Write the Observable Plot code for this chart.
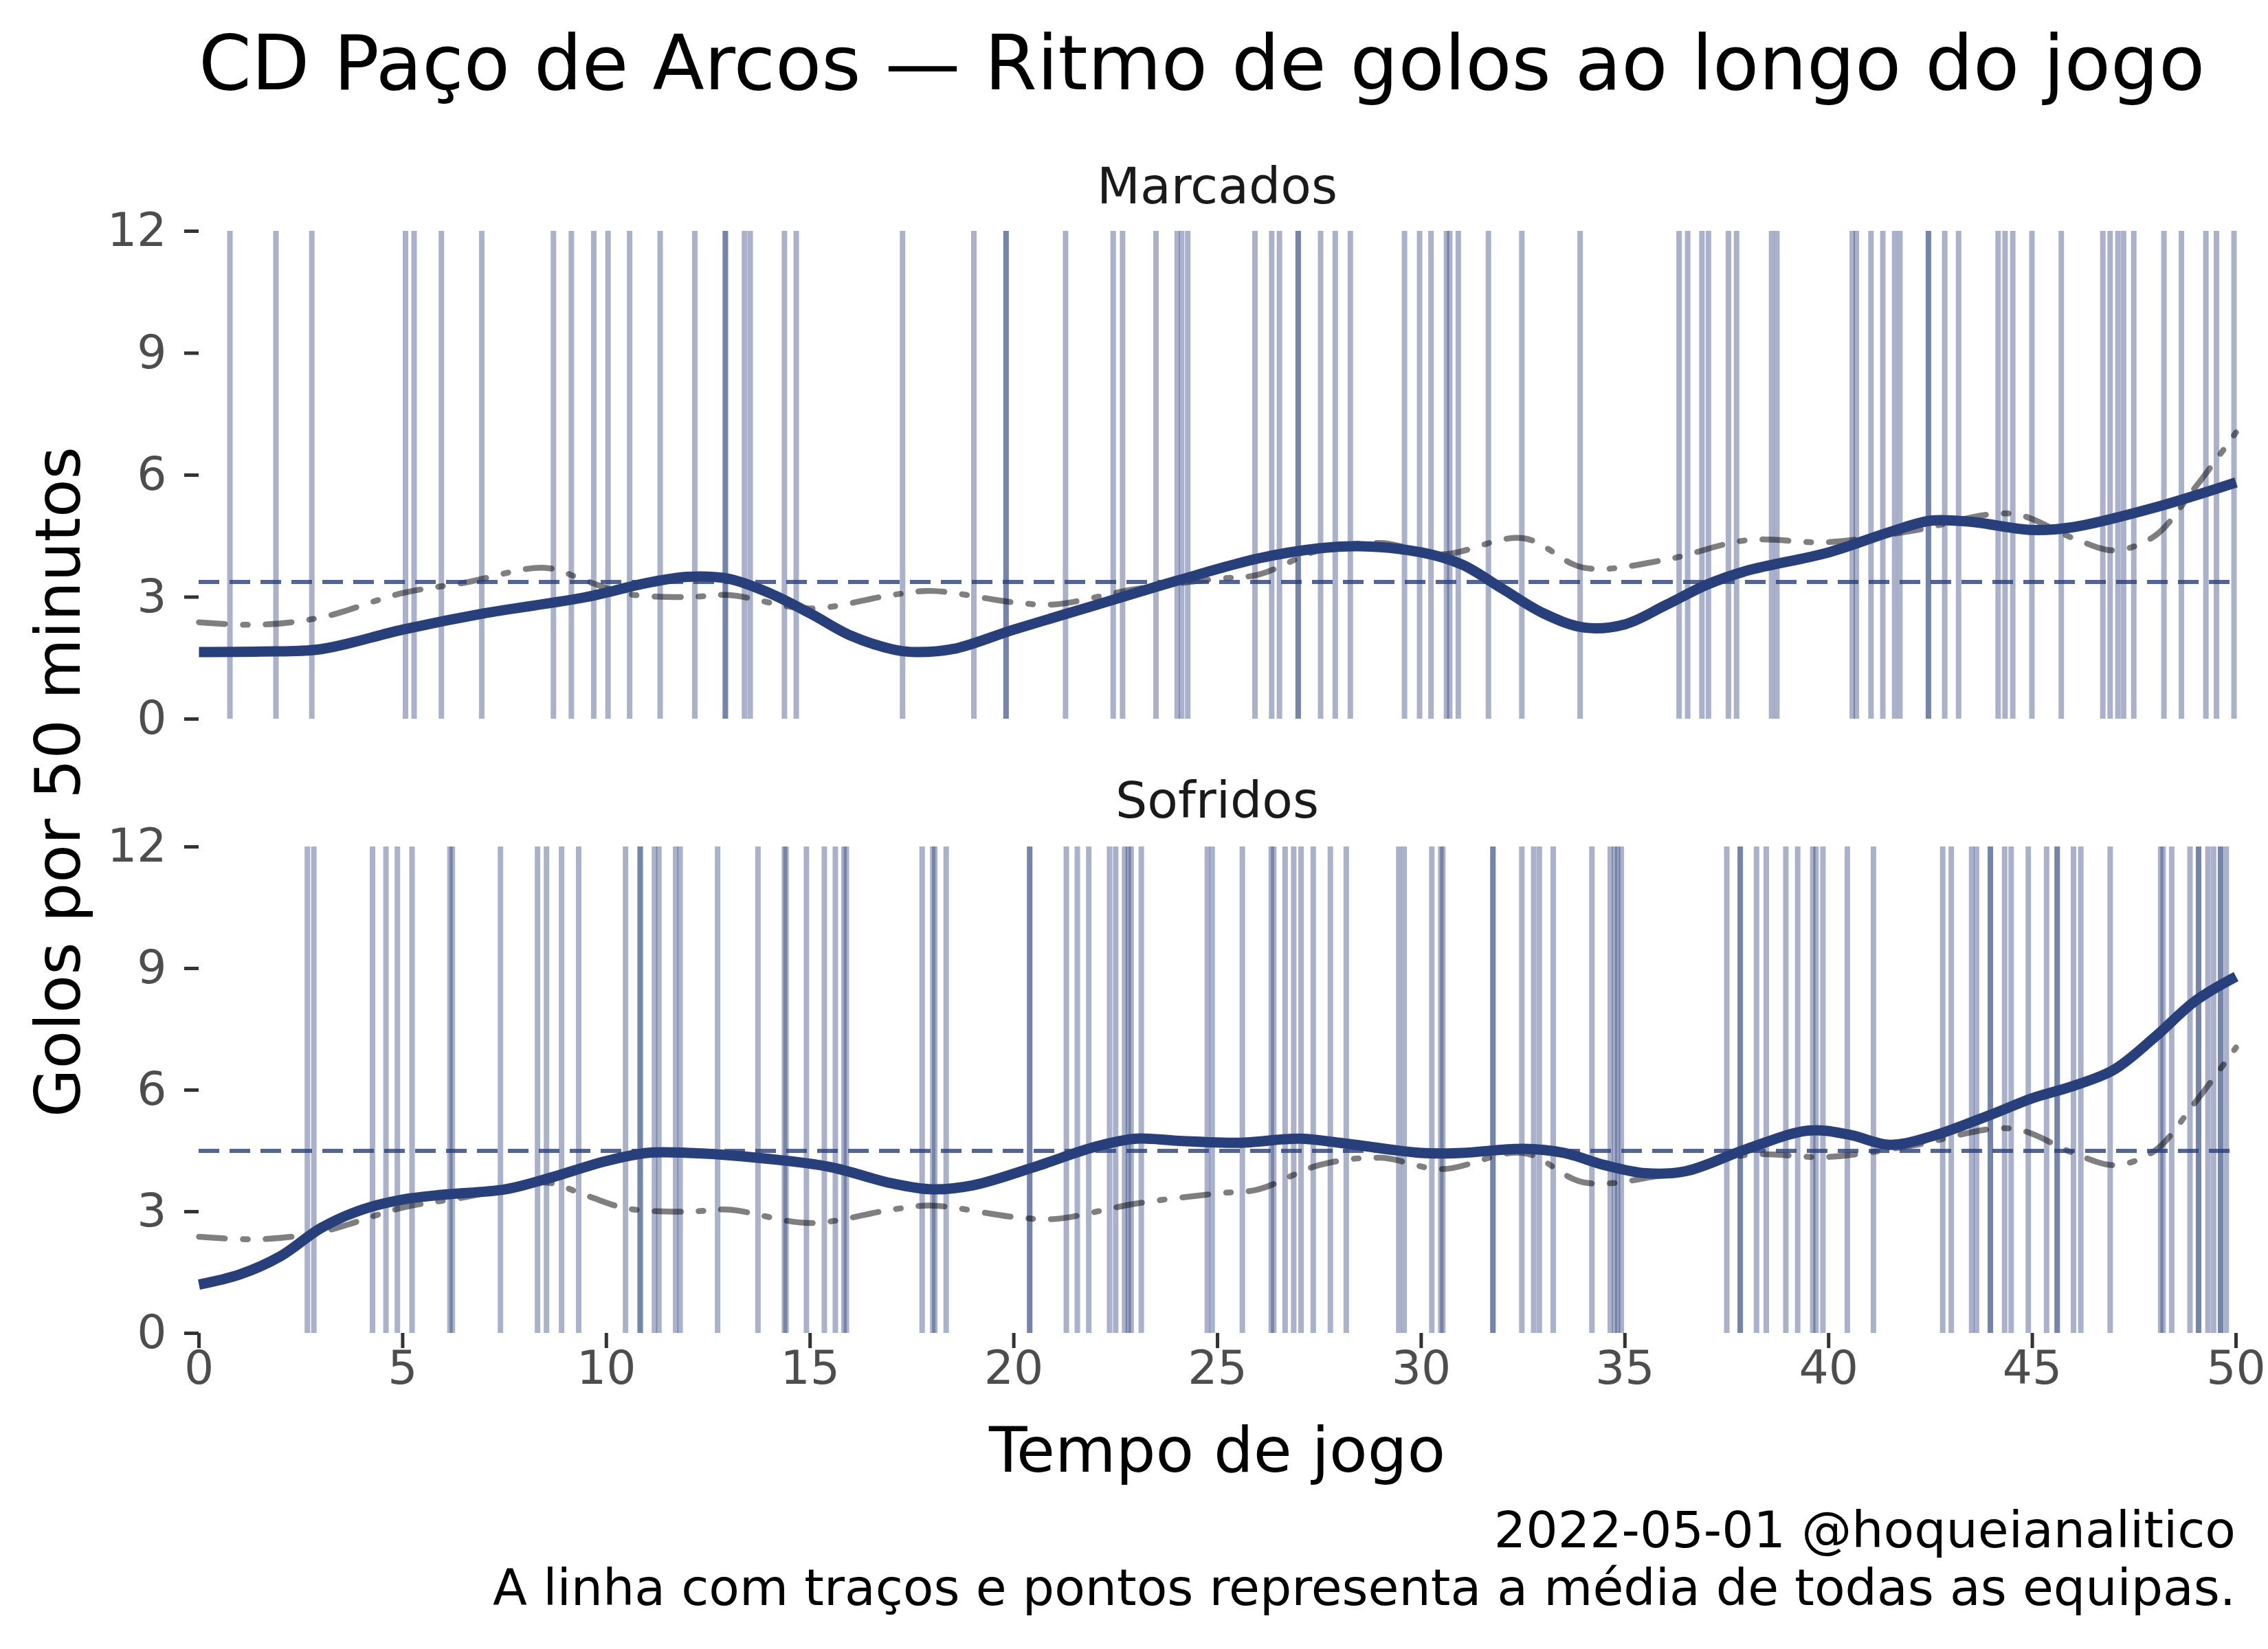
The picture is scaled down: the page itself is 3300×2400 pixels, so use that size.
<!DOCTYPE html>
<html><head><meta charset="utf-8">
<script src="https://cdn.jsdelivr.net/npm/d3@7"></script>
<script src="https://cdn.jsdelivr.net/npm/@observablehq/plot@0.6"></script>
<style>
html,body{margin:0;padding:0;background:#fff;}
body{width:3300px;height:2400px;position:relative;overflow:hidden;font-family:"DejaVu Sans",sans-serif;}
.t{position:absolute;white-space:nowrap;line-height:1;}
.p{position:absolute;left:0;}
</style></head><body>
<script>
// ---- data ----
const titulo = "CD Paço de Arcos — Ritmo de golos ao longo do jogo";
const paineis = ["Marcados", "Sofridos"];
const eixoX = "Tempo de jogo";
const eixoY = "Golos por 50 minutos";
const nota1 = "2022-05-01 @hoqueianalitico";
const nota2 = "A linha com traços e pontos representa a média de todas as equipas.";
const ticksX = [0,5,10,15,20,25,30,35,40,45,50];
const ticksY = [0,3,6,9,12];

const golosMarcados = [0.76,1.89,2.77,5.07,5.28,5.95,6.94,8.70,9.14,9.69,10.04,10.57,11.32,12.17,12.92,12.92,13.39,13.53,14.37,14.66,
17.27,19.02,19.81,19.81,21.27,22.44,22.67,23.49,24.01,24.12,24.27,25.92,26.33,26.52,26.98,26.98,27.53,27.89,28.26,29.59,29.96,30.24,30.62,30.70,30.91,31.65,32.47,
33.90,36.33,36.54,36.89,37.05,37.54,37.74,38.60,38.73,40.58,40.68,41.04,41.33,41.62,41.75,42.45,42.45,42.85,43.19,44.16,44.33,44.52,44.99,45.71,46.73,46.91,47.10,47.24,47.49,48.23,48.66,49.26,49.52,49.95];

const golosSofridos = [2.66,2.82,4.26,4.59,4.87,5.23,6.16,6.22,7.40,8.31,8.53,8.90,9.32,10.47,10.83,10.83,11.18,11.29,11.70,11.81,12.73,13.72,14.37,14.41,14.91,15.35,15.62,15.83,15.89,
17.75,18.01,18.06,18.34,20.39,20.39,21.29,21.56,21.84,22.35,22.50,22.72,22.81,22.88,23.13,24.75,24.87,25.61,26.32,26.38,26.66,26.87,27.05,27.35,27.77,28.16,29.45,29.58,30.26,30.48,30.53,31.76,31.76,32.47,32.76,32.90,33.24,
34.19,34.64,34.75,34.82,34.91,37.50,37.83,37.83,38.23,38.47,38.95,39.24,39.61,39.69,39.86,40.46,41.10,42.80,43.01,43.51,43.63,43.97,43.97,44.32,44.48,44.90,45.35,45.61,45.61,46.01,46.19,46.91,48.15,48.21,48.42,48.87,49.08,49.08,49.31,49.45,49.62,49.62,49.76];

const curvaMarcadosMin = [0,1.5,3,5,7,9.5,11,12,13,14,15,16,17,17.5,18.5,20,22,24,26,27.5,28.5,30,31,32,33,34,35,36,37,38,40,41.5,42.5,43.5,45,46,48,50];
const curvaMarcadosVal = [1.65,1.66,1.72,2.2,2.6,3.0,3.35,3.5,3.45,3.1,2.6,2.05,1.72,1.65,1.72,2.2,2.8,3.4,3.95,4.2,4.25,4.1,3.8,3.2,2.6,2.25,2.33,2.8,3.3,3.65,4.1,4.6,4.88,4.85,4.65,4.72,5.2,5.82];

const curvaSofridosMin = [0,1,2,3,4,5,6,7.5,8.5,10,11,12,14,15.5,17,18,19,20.5,22,23,24,25.5,27,28,30,31,32.5,33.5,34.5,35.5,36.5,38,39.5,40.5,41.5,42.5,44,45,46,47,48,49,50];
const curvaSofridosVal = [1.2,1.45,1.9,2.6,3.05,3.3,3.42,3.55,3.8,4.25,4.45,4.45,4.3,4.1,3.7,3.55,3.65,4.1,4.6,4.8,4.75,4.7,4.8,4.7,4.45,4.45,4.55,4.45,4.15,3.95,4.0,4.55,5.0,4.9,4.65,4.85,5.4,5.8,6.1,6.5,7.3,8.2,8.8];

const mediaLigaMin = [0,1.5,3,5,6.5,8.5,9.5,10.5,12,13,15,17,18,20,21,23,25,26,27.5,29,30.5,32.5,34,36,38,40,42,44.5,46,47,48,49,50];
const mediaLigaVal = [2.38,2.32,2.5,3.1,3.35,3.72,3.4,3.08,3.0,3.05,2.72,3.05,3.15,2.87,2.82,3.2,3.45,3.55,4.15,4.33,4.05,4.45,3.72,3.92,4.4,4.35,4.62,5.05,4.45,4.15,4.5,5.7,7.05];

const mediaEquipa = [3.37, 4.5];

// ---- helpers ----
const navy = "#273f7b";
const W = 3300, L = 289, R = 47;
function pts(ms, vs){ return ms.map((m,i)=>({m, v: vs[i]})); }

function painel(golos, curva, media, mostrarX, h, mb){
  const marks = [
    Plot.ruleX(golos, {x: d=>d, y1: 0, y2: 12, stroke: navy, strokeOpacity: 0.4, strokeWidth: 8}),
    Plot.line(pts(mediaLigaMin, mediaLigaVal), {x:"m", y:"v", curve:"catmull-rom", stroke:"#000", strokeOpacity:0.5, strokeWidth:8.5, strokeDasharray:"38,26,7,26"}),
    Plot.ruleY([media], {stroke: navy, strokeOpacity: 0.8, strokeWidth: 6, strokeDasharray: "30,15"}),
    Plot.line(curva, {x:"m", y:"v", curve:"catmull-rom", stroke: navy, strokeWidth: 15, strokeLinecap:"butt"}),
    Plot.axisY({ticks: ticksY, tickSize: 21, tickPadding: 26, fontSize: 68, stroke:"#333333", fill:"#4d4d4d", strokeWidth: 5, label: null})
  ];
  if (mostrarX) marks.push(Plot.axisX({ticks: ticksX, tickSize: 22, tickPadding: 3, fontSize: 68, stroke:"#333333", fill:"#4d4d4d", strokeWidth: 5, label: null}));
  return Plot.plot({
    width: W, height: h,
    marginLeft: L, marginRight: R, marginTop: 36, marginBottom: mb,
    x: {domain: [0, 50], axis: null},
    y: {domain: [0, 12], axis: null},
    style: {fontFamily: "DejaVu Sans", background: "transparent", overflow: "visible"},
    marks
  });
}

function texto(s, css){
  const d = document.createElement("div");
  d.className = "t"; d.textContent = s;
  Object.assign(d.style, css);
  document.body.appendChild(d);
  return d;
}

const p1 = painel(golosMarcados, pts(curvaMarcadosMin, curvaMarcadosVal), mediaEquipa[0], false, 770, 24);
p1.classList.add("p"); p1.style.top = "300px";
document.body.appendChild(p1);
const p2 = painel(golosSofridos, pts(curvaSofridosMin, curvaSofridosVal), mediaEquipa[1], true, 864, 120);
p2.classList.add("p"); p2.style.top = "1196px";
document.body.appendChild(p2);

texto(titulo, {left: L + "px", top: "37px", fontSize: "110px", color: "#000"});
texto(paineis[0], {left: "1771px", top: "270px", fontSize: "73px", color: "#1a1a1a", transform: "translate(-50%,-50%)"});
texto(paineis[1], {left: "1771px", top: "1164px", fontSize: "73px", color: "#1a1a1a", transform: "translate(-50%,-50%)"});
texto(eixoX, {left: "1771px", top: "2065px", fontSize: "91px", color: "#000", transform: "translateX(-50%)"});
texto(eixoY, {left: "84px", top: "1138px", fontSize: "91px", color: "#000", transform: "translate(-50%,-50%) rotate(-90deg)"});
texto(nota1, {right: (W - 3253) + "px", top: "2190px", fontSize: "73px", color: "#000", textAlign: "right"});
texto(nota2, {right: (W - 3253) + "px", top: "2274px", fontSize: "73px", color: "#000", textAlign: "right"});
</script>
</body></html>
